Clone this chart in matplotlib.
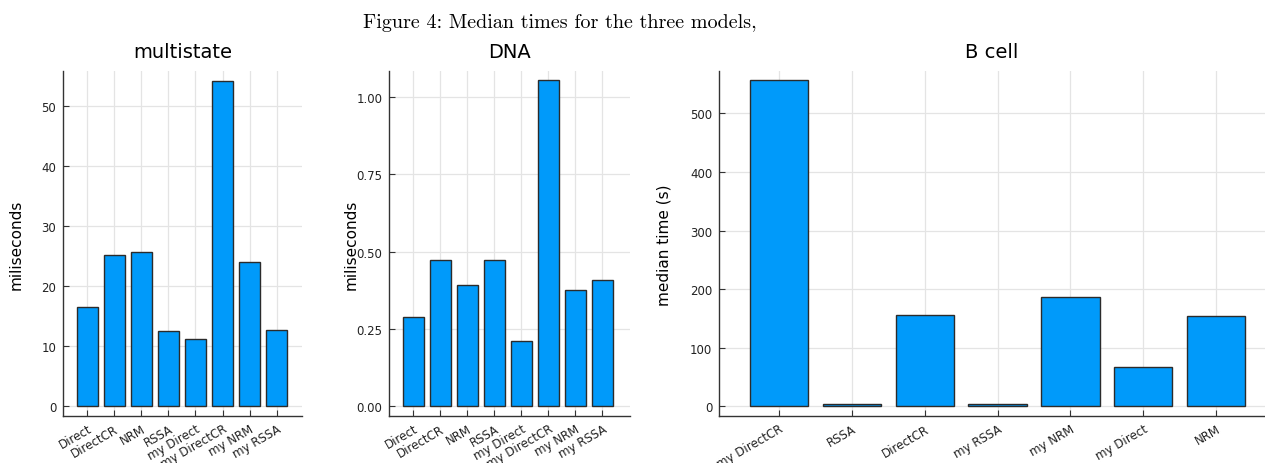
import matplotlib
matplotlib.use("Agg")
import matplotlib.pyplot as plt
import numpy as np

# datos
metodos = ["Direct", "DirectCR", "NRM", "RSSA",
           "my Direct", "my DirectCR", "my NRM", "my RSSA"]
multistate = [16.5, 25.2, 25.7, 12.5, 11.1, 54.2, 24.0, 12.6]
dna = [0.287, 0.474, 0.392, 0.472, 0.209, 1.055, 0.375, 0.406]

metodos_bcell = ["my DirectCR", "RSSA", "DirectCR", "my RSSA",
                 "my NRM", "my Direct", "NRM"]
bcell = [556.3, 4.5, 155.3, 4.5, 187.1, 67.1, 154.2]

azul = "#009AFA"
borde = "#2b2b2b"

plt.rcParams['font.family'] = ['DejaVu Sans']

fig = plt.figure(figsize=(12.65, 4.64), dpi=100)

# posiciones en pixeles -> fracciones
W, H = 1265.0, 464.0
abajo = (H - 417.3) / H
alto = 345.0 / H


def panel(izq, der, etiquetas, valores, titulo, ylabel, ylim, xlim, yticks, labx, fmt=None):
    ax = fig.add_axes([izq / W, abajo, (der - izq) / W, alto])
    x = np.arange(len(etiquetas))
    ax.bar(x, valores, width=0.8, color=azul, edgecolor=borde, linewidth=1.0, zorder=3)
    ax.set_xlim(*xlim)
    ax.set_ylim(*ylim)
    ax.set_yticks(yticks)
    if fmt:
        ax.set_yticklabels([fmt.format(v) for v in yticks])
    ax.set_xticks(x)
    ax.set_xticklabels(etiquetas, rotation=30, ha='right', rotation_mode='anchor')
    ax.tick_params(axis='both', direction='in', length=4, width=0.8,
                   color='#333333', labelsize=8.5, labelcolor='#222222')
    ax.tick_params(axis='y', pad=5)
    ax.tick_params(axis='x', pad=4)
    ax.grid(True, color='#e4e4e4', linewidth=0.9, zorder=0)
    ax.set_axisbelow(True)
    for s in ['top', 'right']:
        ax.spines[s].set_visible(False)
    for s in ['left', 'bottom']:
        ax.spines[s].set_color('#333333')
        ax.spines[s].set_linewidth(1.0)
    ax.set_title(titulo, fontsize=14, pad=10)
    ax.set_ylabel(ylabel, fontsize=11)
    ax.yaxis.set_label_coords(labx, 0.5)
    return ax


panel(63.3, 301.7, metodos, multistate, "multistate", "miliseconds",
      (-1.72, 55.8), (-0.89, 7.93), [0, 10, 20, 30, 40, 50], -0.165)
panel(389.3, 630.0, metodos, dna, "DNA", "miliseconds",
      (-0.0346, 1.0846), (-0.89, 8.02), [0.0, 0.25, 0.5, 0.75, 1.0], -0.128, "{:.2f}")
panel(719.3, 1265.0, metodos_bcell, bcell, "B cell", "median time (s)",
      (-17, 571.7), (-0.82, 6.67), [0, 100, 200, 300, 400, 500], -0.0867)

fig.text(363 / W, 1 - 28 / H, "Figure 4: Median times for the three models,",
         family='cmr10', fontsize=14.5, ha='left', va='baseline')

fig.savefig("out.png", dpi=100)
